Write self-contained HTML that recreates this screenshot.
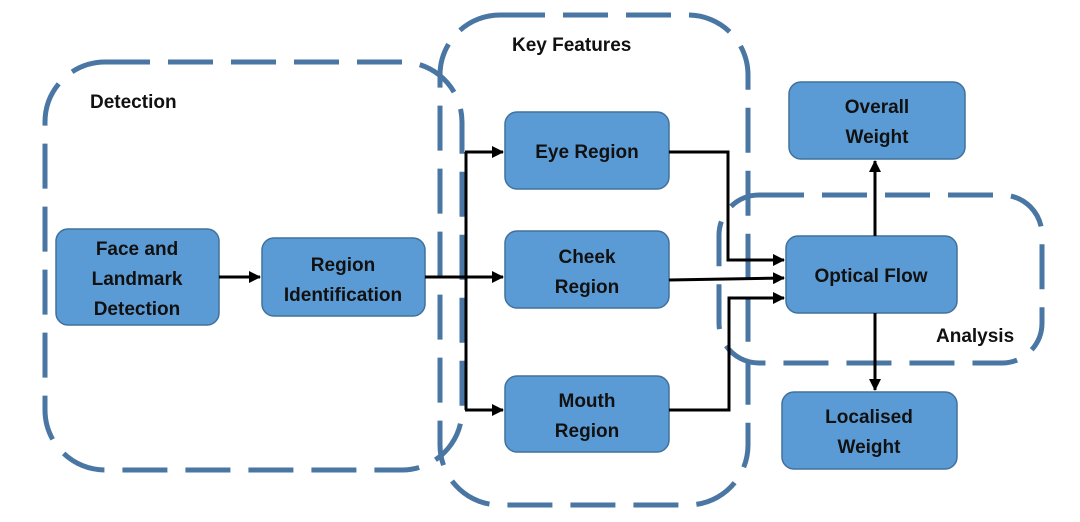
<!DOCTYPE html>
<html><head><meta charset="utf-8"><style>
html,body{margin:0;padding:0;background:#fff;}
svg{display:block;}
text{font-family:"Liberation Sans",sans-serif;font-weight:bold;font-size:19px;fill:#111;}
</style></head><body>
<svg width="1080" height="522" viewBox="0 0 1080 522">
<defs><marker id="a" markerWidth="12" markerHeight="12" refX="11" refY="6" orient="auto" markerUnits="userSpaceOnUse"><path d="M0,0 L12,6 L0,12 z" fill="#000"/></marker></defs>
<g fill="none" stroke="#4a76a4" stroke-width="5" stroke-dasharray="45,18">
<rect x="45" y="62" width="417" height="408" rx="60"/>
<rect x="440" y="15" width="308" height="490" rx="60"/>
<rect x="719" y="195" width="323" height="168" rx="40"/>
</g>
<g fill="#5b9bd5" stroke="#41719c" stroke-width="1.5">
<rect x="56" y="229" width="163" height="96" rx="12"/>
<rect x="262" y="238" width="163" height="78" rx="12"/>
<rect x="505" y="112" width="164" height="77" rx="12"/>
<rect x="505" y="231" width="164" height="77" rx="12"/>
<rect x="505" y="376" width="164" height="76" rx="12"/>
<rect x="786" y="236" width="171" height="77" rx="12"/>
<rect x="789" y="82" width="176" height="77" rx="12"/>
<rect x="782" y="392" width="175" height="77" rx="12"/>
</g>
<g stroke="#000" stroke-width="3" fill="none">
<line x1="219" y1="277" x2="260" y2="277" marker-end="url(#a)"/>
<line x1="425" y1="277" x2="503" y2="277" marker-end="url(#a)"/>
<line x1="466" y1="152" x2="466" y2="410"/>
<line x1="465" y1="152" x2="503" y2="152" marker-end="url(#a)"/>
<line x1="465" y1="410" x2="503" y2="410" marker-end="url(#a)"/>
<polyline points="669,152 728,152 728,260 784,260" marker-end="url(#a)"/>
<line x1="669" y1="280" x2="784" y2="278" marker-end="url(#a)"/>
<polyline points="669,410 729,410 729,298 784,298" marker-end="url(#a)"/>
<line x1="875" y1="236" x2="875" y2="161" marker-end="url(#a)"/>
<line x1="875" y1="313" x2="875" y2="390" marker-end="url(#a)"/>
</g>
<g text-anchor="middle">
<text x="137" y="255">Face and</text>
<text x="137" y="285">Landmark</text>
<text x="137" y="315">Detection</text>
<text x="343" y="271">Region</text>
<text x="343" y="301">Identification</text>
<text x="587" y="158">Eye Region</text>
<text x="587" y="263">Cheek</text>
<text x="587" y="293">Region</text>
<text x="587" y="407">Mouth</text>
<text x="587" y="437">Region</text>
<text x="871" y="282">Optical Flow</text>
<text x="877" y="113">Overall</text>
<text x="877" y="143">Weight</text>
<text x="869" y="423">Localised</text>
<text x="869" y="453">Weight</text>
</g>
<text x="90" y="108">Detection</text>
<text x="512" y="51">Key Features</text>
<text x="936" y="342">Analysis</text>
</svg>
</body></html>
